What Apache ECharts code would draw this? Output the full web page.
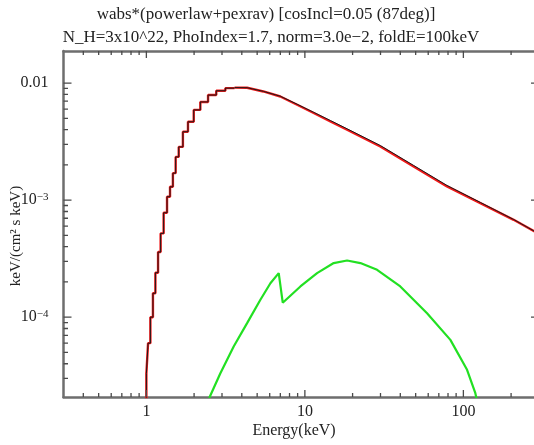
<!DOCTYPE html>
<html>
<head>
<meta charset="utf-8">
<script src="https://cdn.jsdelivr.net/npm/echarts@6/dist/echarts.min.js"></script>
<style>
  html, body { margin: 0; padding: 0; background: #fff; }
  #chart { width: 534px; height: 445px; }
</style>
</head>
<body>
<div id="chart"></div>
<script>
// ---- text ----
const titleLine1 = 'wabs*(powerlaw+pexrav) [cosIncl=0.05 (87deg)]';
const titleLine2 = 'N_H=3x10^22, PhoIndex=1.7, norm=3.0e\u22122, foldE=100keV';
const xTitle = 'Energy(keV)';
const yTitle = 'keV/(cm\u00b2 s keV)';

// ---- axis ranges and ticks ----
const xRange = [0.3, 300];
const yRange = [2.08e-5, 0.0188];
const xMajorTicks = [1, 10, 100];
const xMinorTicks = [0.4, 0.5, 0.6, 0.7, 0.8, 0.9, 2, 3, 4, 5, 6, 7, 8, 9,
                     20, 30, 40, 50, 60, 70, 80, 90, 200];
const yMajorTicks = [1e-4, 1e-3, 1e-2];
const yMinorTicks = [3e-5, 4e-5, 5e-5, 6e-5, 7e-5, 8e-5, 9e-5,
                     2e-4, 3e-4, 4e-4, 5e-4, 6e-4, 7e-4, 8e-4, 9e-4,
                     2e-3, 3e-3, 4e-3, 5e-3, 6e-3, 7e-3, 8e-3, 9e-3];

// ---- absorbed model, low-energy binned part (bin start energy, flux) ----
const lowEnergy = [1.0, 1.0, 1.025, 1.06, 1.10, 1.14, 1.185, 1.23, 1.285, 1.35, 1.41,
                   1.47, 1.53, 1.60, 1.70, 1.83, 1.99, 2.19, 2.45, 2.76, 3.15, 3.6];
const lowFlux = [1e-7, 3.3e-5, 6.0e-5, 1.0e-4, 1.6e-4, 2.4e-4, 3.6e-4, 5.2e-4, 7.8e-4, 1.07e-3, 1.3e-3,
                 1.7e-3, 2.34e-3, 2.85e-3, 3.84e-3, 4.67e-3, 5.9e-3, 6.9e-3, 7.9e-3, 8.6e-3, 9.05e-3, 9.15e-3];

// ---- continuum above the peak ----
const highEnergy = [3.6, 4.32, 5.47, 7.0, 8.93, 11.36, 14.49, 18.46, 29.9, 48.5, 78.8, 128, 207.6, 300];
const modelFlux = [9.15e-3, 9.12e-3, 8.48e-3, 7.68e-3, 6.53e-3, 5.55e-3, 4.70e-3, 3.99e-3,
                   2.87e-3, 1.94e-3, 1.31e-3, 9.42e-4, 6.79e-4, 5.15e-4];
const totalFlux = [9.15e-3, 9.13e-3, 8.50e-3, 7.72e-3, 6.60e-3, 5.63e-3, 4.79e-3, 4.07e-3,
                   2.93e-3, 1.98e-3, 1.335e-3, 9.55e-4, 6.83e-4, 5.15e-4];

// ---- reflection component (pexrav) ----
const reflEnergy = [2.3, 2.508, 2.93, 3.555, 4.32, 5.24, 6.06, 6.84, 7.25, 9.37, 11.94, 15.2,
                    18.46, 22.4, 28.55, 40.0, 59.0, 82.8, 105.5, 119, 130];
const reflFlux = [1.2e-5, 2.08e-5, 3.32e-5, 5.61e-5, 8.89e-5, 1.41e-4, 1.95e-4, 2.38e-4, 1.33e-4,
                  1.83e-4, 2.38e-4, 2.90e-4, 3.05e-4, 2.90e-4, 2.54e-4, 1.83e-4, 1.08e-4, 6.4e-5,
                  3.55e-5, 2.24e-5, 1.3e-5];

const pairs = (xs, ys) => xs.map((x, i) => [x, ys[i]]);

const FONT = "'Liberation Serif', 'DejaVu Serif', serif";
const FRAME = '#6e6e6e';
const TICK = '#4a4a4a';

function logAxis(dim, position, withLabels, ticks) {
  const range = dim === 'x' ? xRange : yRange;
  const ax = {
    type: 'log',
    logBase: 10,
    position: position,
    min: range[0],
    max: range[1],
    splitLine: { show: false },
    axisLine: { show: true, onZero: false, lineStyle: { color: FRAME, width: 2.5 } },
    axisTick: { show: false },
    axisLabel: { show: false }
  };
  if (withLabels) {
    if (dim === 'x') {
      ax.axisLabel = {
        show: true, customValues: ticks, margin: 7,
        fontFamily: FONT, fontSize: 16, color: '#222',
        formatter: v => String(Math.round(v))
      };
    } else {
      ax.axisLabel = {
        show: true, customValues: ticks, margin: 15,
        fontFamily: FONT, fontSize: 16, color: '#222',
        formatter: v => {
          const p = Math.round(Math.log10(v));
          return p === -2 ? '{b|0.01}' : '{b|10}{s|\u2212' + (-p) + '}';
        },
        rich: {
          b: { fontFamily: FONT, fontSize: 16, color: '#222', lineHeight: 18 },
          s: { fontFamily: FONT, fontSize: 11, color: '#222', lineHeight: 12, verticalAlign: 'top' }
        }
      };
    }
  }
  return ax;
}

const curveSeries = [
  {
    name: 'model (binned)', type: 'line', step: 'end', showSymbol: false,
    data: pairs(lowEnergy, lowFlux),
    lineStyle: { color: '#f01818', width: 2.4 }
  },
  {
    name: 'model', type: 'line', showSymbol: false,
    data: pairs(highEnergy, modelFlux),
    lineStyle: { color: '#f01818', width: 2.4 }
  },
  {
    name: 'total (binned)', type: 'line', step: 'end', showSymbol: false,
    data: pairs(lowEnergy, lowFlux),
    lineStyle: { color: '#1a1a1a', width: 1 }
  },
  {
    name: 'total', type: 'line', showSymbol: false,
    data: pairs(highEnergy, totalFlux),
    lineStyle: { color: '#1a1a1a', width: 1 }
  },
  {
    name: 'pexrav', type: 'line', showSymbol: false,
    data: pairs(reflEnergy, reflFlux),
    lineStyle: { color: '#22e022', width: 2.2 }
  }
];

const chart = echarts.init(document.getElementById('chart'), null, { renderer: 'canvas' });

chart.setOption({
  backgroundColor: '#fff',
  animation: false,
  grid: { left: 63.5, top: 51, width: 475.5, height: 346, outerBoundsMode: 'none' },
  xAxis: [
    logAxis('x', 'bottom', true, xMajorTicks),
    logAxis('x', 'top', false)
  ],
  yAxis: [
    logAxis('y', 'left', true, yMajorTicks),
    logAxis('y', 'right', false)
  ],
  series: curveSeries,
  graphic: [
    { type: 'text', x: 266, y: 15, style: { text: titleLine1, font: '17px ' + FONT, fill: '#222',
      textAlign: 'center', textVerticalAlign: 'middle' } },
    { type: 'text', x: 271, y: 38, style: { text: titleLine2, font: '17px ' + FONT, fill: '#222',
      textAlign: 'center', textVerticalAlign: 'middle' } },
    { type: 'text', x: 294, y: 431, style: { text: xTitle, font: '16px ' + FONT, fill: '#222',
      textAlign: 'center', textVerticalAlign: 'middle' } },
    { type: 'text', x: 16, y: 236, rotation: Math.PI / 2, style: { text: yTitle, font: '15px ' + FONT,
      fill: '#222', textAlign: 'center', textVerticalAlign: 'middle' } }
  ]
});

// Inward tick marks on the four sides of the frame, drawn as broken polylines.
// The inner end of each tick is found by stepping a fixed pixel length in from
// the frame and converting back to data space with the chart's own scales.
const finder = { xAxisIndex: 0, yAxisIndex: 0 };
const toPx = p => chart.convertToPixel(finder, p);
const fromPx = p => chart.convertFromPixel(finder, p);

function tickData(side, values, len) {
  const out = [];
  values.forEach(v => {
    let a, b, p;
    if (side === 'bottom') {
      a = [v, yRange[0]]; p = toPx(a); b = [v, fromPx([p[0], p[1] - len])[1]];
    } else if (side === 'top') {
      a = [v, yRange[1]]; p = toPx(a); b = [v, fromPx([p[0], p[1] + len])[1]];
    } else if (side === 'left') {
      a = [xRange[0], v]; p = toPx(a); b = [fromPx([p[0] + len, p[1]])[0], v];
    } else {
      a = [xRange[1], v]; p = toPx(a); b = [fromPx([p[0] - len, p[1]])[0], v];
    }
    out.push(a, b, [NaN, NaN]);
  });
  return out;
}
function tickSeries(side, values, len) {
  return {
    type: 'line', data: tickData(side, values, len), showSymbol: false, clip: false,
    connectNulls: false, lineStyle: { color: TICK, width: 1.3 }, emphasis: { disabled: true }
  };
}

chart.setOption({
  series: curveSeries.concat([
    tickSeries('bottom', xMajorTicks, 7),
    tickSeries('bottom', xMinorTicks, 4),
    tickSeries('top', xMajorTicks, 7),
    tickSeries('top', xMinorTicks, 4),
    tickSeries('left', yMajorTicks, 8),
    tickSeries('left', yMinorTicks, 4.5),
    tickSeries('right', yMajorTicks, 8),
    tickSeries('right', yMinorTicks, 4.5)
  ])
});
</script>
</body>
</html>
